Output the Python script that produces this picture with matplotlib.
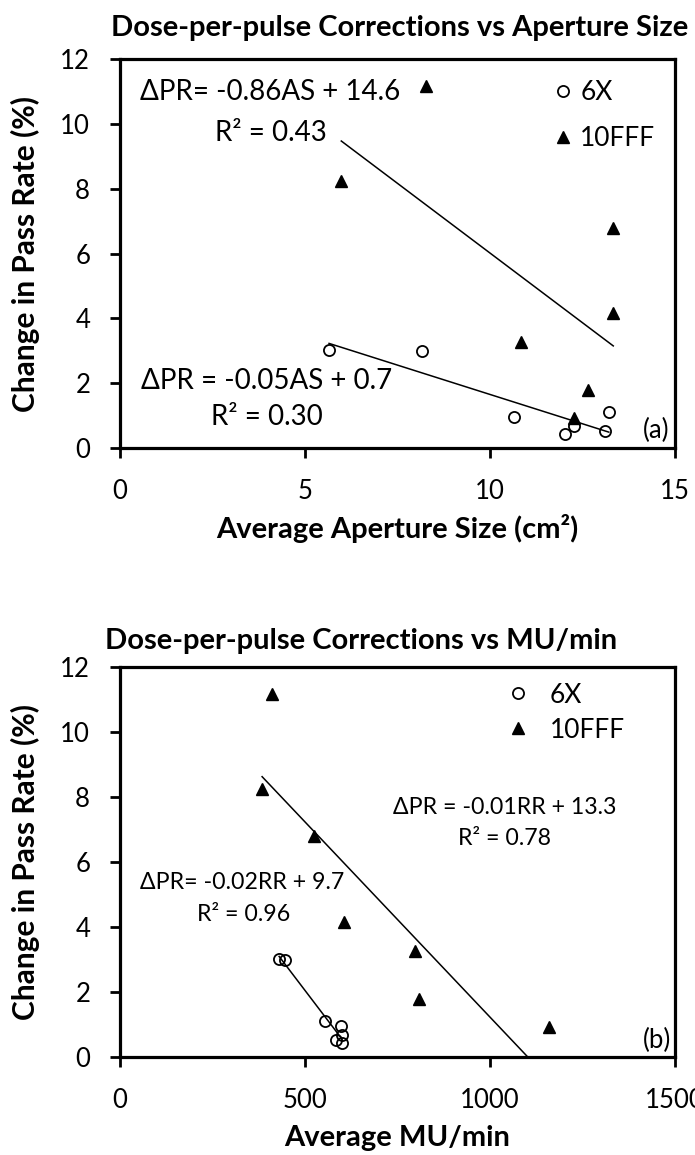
import numpy as np
import matplotlib
matplotlib.use("Agg")
import matplotlib.pyplot as plt

plt.rcParams['font.family'] = ['Lato', 'DejaVu Sans']

# values
# change in pass rate (%), same points in both panels
pr_6x = [3.03, 2.98, 1.10, 0.97, 0.68, 0.53, 0.44]
pr_10fff = [11.17, 8.25, 6.79, 4.16, 3.27, 1.80, 0.92]

# average aperture size (cm^2)
as_6x = [5.65, 8.17, 13.21, 10.64, 12.28, 13.10, 12.02]
as_10fff = [8.27, 5.98, 13.33, 13.31, 10.84, 12.66, 12.28]

# average MU/min
mu_6x = [430, 447, 553, 596, 599, 584, 599]
mu_10fff = [412, 384, 525, 604, 797, 807, 1159]

series_labels = ['6X', '10FFF']

fig = plt.figure(figsize=(6.95, 11.55), dpi=100)
ax1 = fig.add_axes([0.1727, 0.6121, 0.7986, 0.3368])
ax2 = fig.add_axes([0.1727, 0.0848, 0.7986, 0.3377])


def draw_panel(ax, x6, x10):
    # least-squares trendlines over the data range, under the markers
    for x, y in [(x6, pr_6x), (x10, pr_10fff)]:
        coef = np.polyfit(x, y, 1)
        xs = np.array([min(x), max(x)])
        ax.plot(xs, np.polyval(coef, xs), color='black', lw=1.1, zorder=2)
    ax.plot(x6, pr_6x, 'o', ms=8, mfc='none', mec='black', mew=1.3,
            zorder=3, label=series_labels[0])
    ax.plot(x10, pr_10fff, '^', ms=9, color='black', zorder=3,
            label=series_labels[1])
    for s in ax.spines.values():
        s.set_linewidth(2.3)
    ax.set_ylim(0, 12)
    ax.set_yticks(range(0, 13, 2))
    ax.tick_params(direction='out', length=7, width=2, labelsize=18.5)
    ax.tick_params(axis='x', pad=15.5)
    ax.tick_params(axis='y', pad=14.5)
    ax.set_ylabel('Change in Pass Rate (%)', fontsize=21.5, fontweight='bold')
    ax.yaxis.set_label_coords(-0.171, 0.5)
    ax.yaxis.label.set_va('center')


# (a) aperture size
draw_panel(ax1, as_6x, as_10fff)
ax1.set_xlim(0, 15)
ax1.set_xticks([0, 5, 10, 15])
ax1.set_xlabel('Average Aperture Size (cm²)', fontsize=21, fontweight='bold')
ax1.xaxis.set_label_coords(0.5, -0.208)
ax1.xaxis.label.set_va('center')
ax1.legend(loc='upper left', bbox_to_anchor=(11.62, 11.35),
           bbox_transform=ax1.transData, frameon=False, fontsize=19,
           numpoints=1, borderpad=0, borderaxespad=0, handlelength=1.0,
           handletextpad=0.15, labelspacing=0.8)
ax1.text(4.07, 10.97, 'ΔPR= -0.86AS + 14.6', fontsize=20, ha='center', va='center')
ax1.text(4.07, 9.73, 'R² = 0.43', fontsize=20, ha='center', va='center')
ax1.text(3.95, 2.08, 'ΔPR = -0.05AS + 0.7', fontsize=20, ha='center', va='center')
ax1.text(3.97, 0.95, 'R² = 0.30', fontsize=20, ha='center', va='center')
ax1.text(14.5, 0.53, '(a)', fontsize=18.5, ha='center', va='center')
fig.text(0.5755, 0.976, 'Dose-per-pulse Corrections vs Aperture Size',
         fontsize=21, fontweight='bold', ha='center', va='center')

# (b) MU/min
draw_panel(ax2, mu_6x, mu_10fff)
ax2.set_xlim(0, 1500)
ax2.set_xticks([0, 500, 1000, 1500])
ax2.set_xlabel('Average MU/min', fontsize=21, fontweight='bold')
ax2.xaxis.set_label_coords(0.5, -0.208)
ax2.xaxis.label.set_va('center')
ax2.legend(loc='upper left', bbox_to_anchor=(1041, 11.52),
           bbox_transform=ax2.transData, frameon=False, fontsize=19,
           numpoints=1, borderpad=0, borderaxespad=0, handlelength=1.0,
           handletextpad=0.69, labelspacing=0.38)
ax2.text(1039, 7.69, 'ΔPR = -0.01RR + 13.3', fontsize=16.7, ha='center', va='center')
ax2.text(1039, 6.71, 'R² = 0.78', fontsize=16.7, ha='center', va='center')
ax2.text(331, 5.38, 'ΔPR= -0.02RR + 9.7', fontsize=16.7, ha='center', va='center')
ax2.text(333, 4.40, 'R² = 0.96', fontsize=16.7, ha='center', va='center')
ax2.text(1451, 0.52, '(b)', fontsize=18.5, ha='center', va='center')
fig.text(0.519, 0.445, 'Dose-per-pulse Corrections vs MU/min',
         fontsize=21, fontweight='bold', ha='center', va='center')

fig.savefig('out.png', dpi=100)
